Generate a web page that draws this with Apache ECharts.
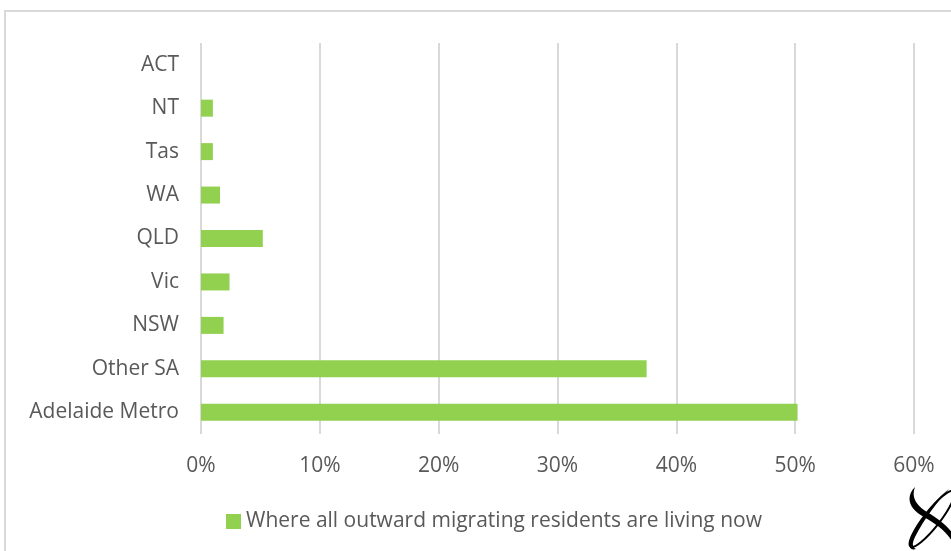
<!DOCTYPE html>
<html>
<head>
<meta charset="utf-8">
<script src="https://cdn.jsdelivr.net/npm/echarts@6/dist/echarts.min.js"></script>
<style>
  html, body { margin: 0; padding: 0; background: #fff; }
  #chart { width: 951px; height: 551px; }
</style>
</head>
<body>
<div id="chart"></div>
<script>
// Destinations, listed bottom to top as drawn on the category axis
const regions = ['Adelaide Metro', 'Other SA', 'NSW', 'Vic', 'QLD', 'WA', 'Tas', 'NT', 'ACT'];
// Share of outward migrating residents (%)
const shares = [50.2, 37.5, 1.9, 2.4, 5.2, 1.6, 1.0, 1.0, 0];
const seriesName = 'Where all outward migrating residents are living now';
const axisMax = 60;
const axisStep = 10;

const textColor = '#595959';
const font = 'Open Sans';
const fontSize = 21;

// small swoosh logo in the lower right corner
const logoSvg =
  '<svg xmlns="http://www.w3.org/2000/svg" width="52" height="70" viewBox="0 0 52 70">' +
  '<path d="M13 4 C3 14 7 26 22 34 C34 41 43 47 50 58 L51 51 C45 42 35 35 25 29 C14 22 9 14 13 4 Z" fill="#000"/>' +
  '<ellipse cx="30" cy="36" rx="8" ry="35" transform="rotate(38 30 36)" fill="none" stroke="#000" stroke-width="2"/>' +
  '<path d="M47 6 C34 16 18 36 9 56 C6 63 8 68 14 66 C10 64 10 60 13 54 C22 36 36 18 47 6 Z" fill="#000"/>' +
  '</svg>';

const chart = echarts.init(document.getElementById('chart'));
chart.setOption({
  backgroundColor: '#fff',
  animation: false,
  grid: { left: 201, right: 37, top: 43, bottom: 117 },
  legend: {
    top: 506,
    left: 221,
    itemWidth: 15,
    itemHeight: 15,
    icon: 'rect',
    textStyle: { color: textColor, fontSize: fontSize, fontFamily: font },
    data: [seriesName]
  },
  xAxis: {
    type: 'value',
    min: 0,
    max: axisMax,
    interval: axisStep,
    axisLine: { show: false },
    axisTick: { show: false },
    splitLine: { lineStyle: { color: '#d9d9d9', width: 2 } },
    axisLabel: {
      formatter: v => v + '%',
      color: textColor,
      fontSize: fontSize,
      fontFamily: font,
      margin: 22
    }
  },
  yAxis: {
    type: 'category',
    data: regions,
    axisLine: { show: false },
    axisTick: { show: false },
    axisLabel: { color: textColor, fontSize: fontSize, fontFamily: font, margin: 22 }
  },
  series: [{
    name: seriesName,
    type: 'bar',
    data: shares,
    barWidth: 17,
    itemStyle: { color: '#92d050' }
  }],
  graphic: [
    {
      type: 'rect',
      shape: { x: 5, y: 11, width: 960, height: 560 },
      style: { fill: 'none', stroke: '#d9d9d9', lineWidth: 2 },
      silent: true
    },
    {
      type: 'image',
      left: 902,
      top: 483,
      style: {
        image: 'data:image/svg+xml;charset=utf-8,' + encodeURIComponent(logoSvg),
        width: 52,
        height: 70
      },
      silent: true
    }
  ]
});
</script>
</body>
</html>
